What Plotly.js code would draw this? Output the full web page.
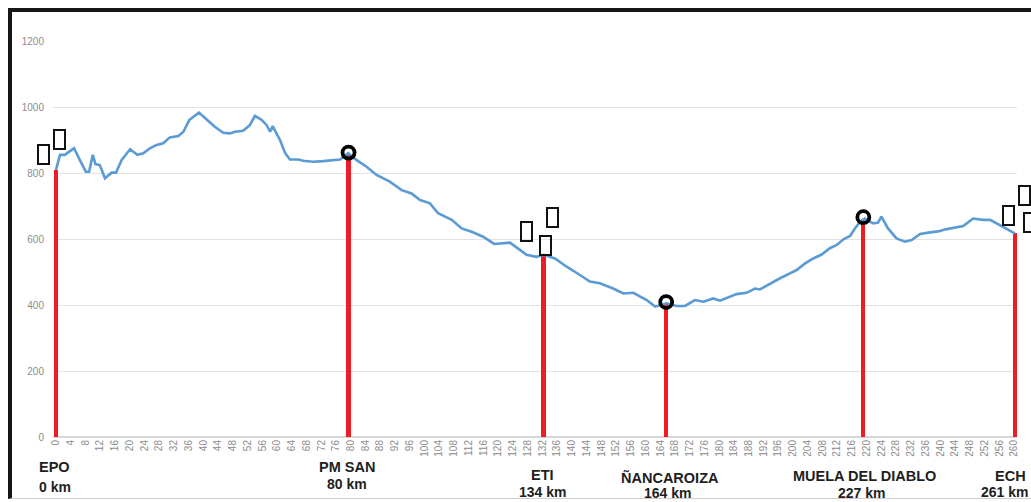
<!DOCTYPE html>
<html>
<head>
<meta charset="utf-8">
<script src="https://cdn.plot.ly/plotly-3.0.1.min.js"></script>
<style>
  html, body { margin:0; padding:0; background:#ffffff; overflow:hidden; width:1031px; height:502px; }
  #chart { position:absolute; left:0; top:0; width:1031px; height:502px; }
  #frame { position:absolute; left:8px; top:8px; width:1100px; height:491px;
           border-top:4px solid #161616; border-left:4px solid #161616; border-bottom:1px solid #cfcfcf;
           pointer-events:none; box-sizing:border-box; }
</style>
</head>
<body>
<div id="chart"></div>
<div id="frame"></div>
<script>
// ---- Elevation profile (distance axis units, elevation m) ----
const profileX = [0, 1.1, 2.4, 4.9, 6.5, 8.1, 9, 10, 10.7, 11.9, 13.3, 15.1, 16.3, 17.8, 20.1, 22.1, 23.7, 25.5, 27.3, 29.1,
  30.9, 33.2, 34.6, 36.2, 37.4, 38.8, 40, 41.3, 43.1, 45.4, 47.2, 48.6, 50.8, 52.6, 54, 55.8, 57.2, 58.1, 58.8, 60.8,
  62.2, 63.5, 65.8, 67.1, 69.8, 72.5, 74.4, 77.1, 79.3, 81.6, 84.3, 87, 90.6, 93.8, 96.5, 98.8, 101.5, 103.7, 107.4, 110.1,
  112.8, 115.9, 118.9, 123.2, 125.9, 127.7, 130.4, 132.4, 135.4, 138.6, 142.2, 144.9, 147.6, 151.2, 154, 156.7, 160.3, 162.6, 165.7, 168.4,
  170.7, 173.4, 175.7, 178.4, 180.2, 182.9, 184.7, 187.4, 189.7, 191, 193.8, 196.5, 199.2, 201, 203.3, 205.5, 207.8, 210, 211.9, 213.7,
  215.5, 216.8, 218.2, 219.5, 221.8, 223.1, 224, 225.8, 228.1, 230.4, 232.2, 234.5, 237.2, 239.4, 241.7, 244, 246.2, 248.9, 251.6, 253.5,
  256.2, 258.4, 260.2];
const profileElev = [809, 855, 855, 875, 839, 804, 804, 855, 827, 824, 784, 801, 801, 839, 872, 855, 860, 875, 885, 890,
  908, 912, 925, 961, 971, 983, 971, 958, 940, 922, 920, 925, 928, 945, 973, 961, 945, 925, 942, 900,
  860, 841, 841, 837, 834, 836, 839, 841, 860, 839, 819, 794, 774, 748, 738, 718, 708, 678, 658, 632,
  622, 607, 585, 589, 567, 552, 546, 552, 541, 516, 491, 471, 466, 450, 435, 437, 415, 395, 405, 397,
  397, 415, 410, 420, 413, 425, 433, 437, 450, 447, 465, 481, 496, 506, 526, 541, 553, 572, 582, 599,
  609, 632, 652, 662, 647, 650, 668, 632, 602, 592, 597, 615, 620, 623, 630, 634, 639, 662, 658, 658,
  642, 630, 617];

// ---- Stations ----
const stationNames = ['EPO', 'PM SAN', 'ETI', 'ÑANCAROIZA', 'MUELA DEL DIABLO', 'ECH'];
const stationKm    = ['0 km', '80 km', '134 km', '164 km', '227 km', '261 km'];
const stationPos   = [0, 79.4, 132.3, 165.6, 219.1, 260.3];
const stationElev  = [809, 858, 552, 405, 662, 617];
const ringStations = [1, 3, 4];

// ---- Axis ticks ----
const xTickVals = [0,4,8,12,16,20,24,28,32,36,40,44,48,52,56,60,64,68,72,76,80,84,88,92,96,100,104,108,112,116,120,124,128,
  132,136,140,144,148,152,156,160,164,168,172,176,180,184,188,192,196,200,204,208,212,216,220,224,228,232,236,240,244,248,252,256,260];
const yTickVals = [0, 200, 400, 600, 800, 1000, 1200];

// ---- styling helpers (pixel offsets of labels / missing-glyph boxes) ----
const labelStyle = [
  {dx:-1, kx:-1, ny:-30, ky:-50},
  {dx:-2, kx:-2, ny:-30, ky:-47},
  {dx:-1, kx:-1, ny:-38, ky:-55},
  {dx:4,  kx:1,  ny:-40, ky:-56},
  {dx:1,  kx:-2, ny:-39, ky:-56},
  {dx:-5, kx:-11, ny:-39, ky:-55}
];
const glyphBoxes = [
  {s:0, dx:-12.5, dy:15.5}, {s:0, dx:3.5, dy:31},
  {s:2, dx:-17, dy:23.5}, {s:2, dx:9, dy:37.5}, {s:2, dx:2, dy:9},
  {s:5, dx:-6.5, dy:18}, {s:5, dx:9.5, dy:37.5}, {s:5, dx:14.5, dy:10.5}
];

const traces = [
  {
    type:'bar', x: stationPos, y: stationElev, width: 1.15,
    marker:{color:'#ee1c25', line:{width:0}}, hoverinfo:'skip'
  },
  {
    type:'scatter', mode:'lines', x: profileX, y: profileElev,
    line:{color:'#5b9bd5', width:2.6}, hoverinfo:'skip'
  },
  {
    type:'scatter', mode:'markers',
    x: ringStations.map(i => stationPos[i]),
    y: ringStations.map(i => stationElev[i] + 4),
    marker:{symbol:'circle-open', size:12, color:'#000', line:{width:3.8, color:'#000'}},
    hoverinfo:'skip'
  }
];

const annotations = [];
stationNames.forEach((n, i) => {
  const st = labelStyle[i];
  annotations.push({xref:'x', yref:'paper', x: stationPos[i], y: 0, xanchor:'center', yanchor:'middle',
    xshift: st.dx, yshift: st.ny, showarrow:false, text:'<b>' + n + '</b>',
    font:{family:'Liberation Sans, Arial, sans-serif', size:14.5, color:'#1e1e1e'}});
  annotations.push({xref:'x', yref:'paper', x: stationPos[i], y: 0, xanchor:'center', yanchor:'middle',
    xshift: st.kx, yshift: st.ky, showarrow:false, text:'<b>' + stationKm[i] + '</b>',
    font:{family:'Liberation Sans, Arial, sans-serif', size:14, color:'#1e1e1e'}});
});
glyphBoxes.forEach(g => {
  annotations.push({xref:'x', yref:'y', x: stationPos[g.s], y: stationElev[g.s], xanchor:'center', yanchor:'middle',
    xshift: g.dx, yshift: g.dy, showarrow:false, text:' ', width:9, height:17, borderpad:0,
    bordercolor:'#111', borderwidth:2, bgcolor:'rgba(255,255,255,0)',
    font:{size:10, color:'#111'}});
});

const layout = {
  width:1031, height:502,
  margin:{l:53, r:14, t:41, b:65, pad:0},
  paper_bgcolor:'rgba(0,0,0,0)', plot_bgcolor:'rgba(0,0,0,0)',
  showlegend:false, bargap:0,
  xaxis:{
    range:[-0.8, 260.8], tickmode:'array', tickvals:xTickVals, ticktext:xTickVals.map(String),
    tickangle:-90, showgrid:false, zeroline:false, showline:false, ticks:'',
    tickfont:{family:'Liberation Sans, Arial, sans-serif', size:10, color:'#8c8c8c'}, fixedrange:true
  },
  yaxis:{
    range:[0, 1200], tickmode:'array', tickvals:yTickVals, ticktext:yTickVals.map(String),
    showgrid:true, gridcolor:'#e3e3e3', gridwidth:1, zeroline:true, zerolinecolor:'#d6d6d6', zerolinewidth:1.5,
    showline:false, ticks:'', ticklabelstandoff:8,
    tickfont:{family:'Liberation Sans, Arial, sans-serif', size:10, color:'#8c8c8c'}, fixedrange:true
  },
  annotations: annotations
};

Plotly.newPlot('chart', traces, layout, {displayModeBar:false, staticPlot:true});
</script>
</body>
</html>
